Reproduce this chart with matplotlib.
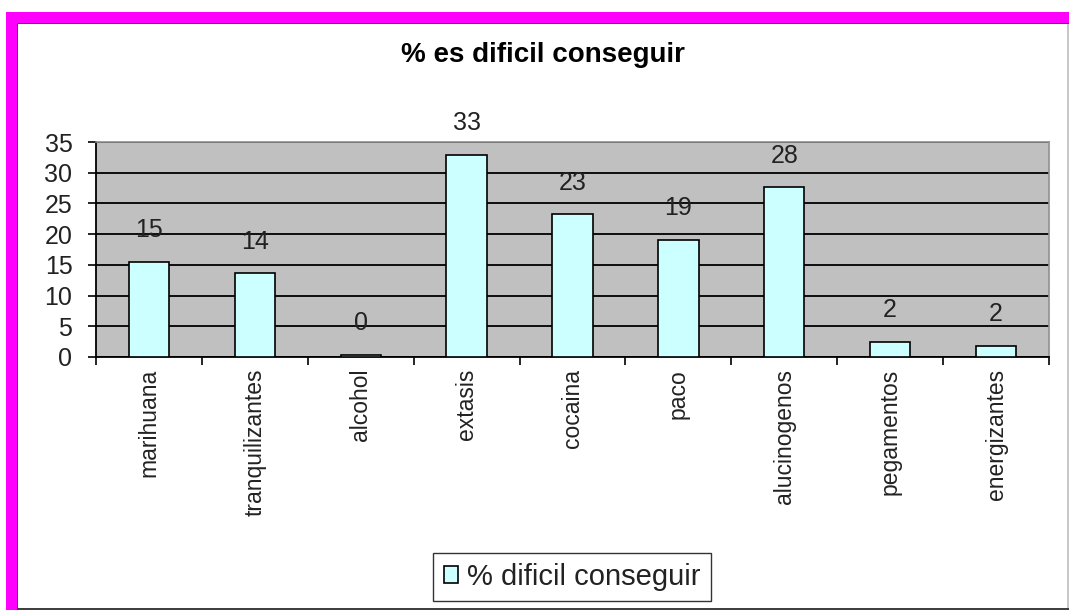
import matplotlib
matplotlib.use('Agg')
import matplotlib.pyplot as plt
from matplotlib.patches import Rectangle
import numpy as np

# Datos
categorias = ["marihuana", "tranquilizantes", "alcohol", "extasis", "cocaina",
              "paco", "alucinogenos", "pegamentos", "energizantes"]
valores = [15.4, 13.6, 0.3, 32.9, 23.2, 19.0, 27.6, 2.4, 1.8]
etiquetas = ["15", "14", "0", "33", "23", "19", "28", "2", "2"]
yticks = [0, 5, 10, 15, 20, 25, 30, 35]
titulo = "% es dificil conseguir"
serie = "% dificil conseguir"

plt.rcParams['font.family'] = ['Liberation Sans', 'DejaVu Sans']

W, H = 1069, 610
fig = plt.figure(figsize=(W / 100, H / 100), dpi=100)
fig.patch.set_facecolor('white')


def rect_px(x0, y0, x1, y1, color):
    # rectangulo en pixeles (origen arriba-izquierda)
    fig.patches.append(Rectangle((x0 / W, 1 - y1 / H), (x1 - x0) / W, (y1 - y0) / H,
                                 transform=fig.transFigure, facecolor=color,
                                 edgecolor='none', zorder=-10))


# Marco magenta y panel blanco
rect_px(6, 12, W, H, '#ff00ff')
rect_px(17, 23, 1069, 610, '#404040')
rect_px(18, 24, 1067, 608, 'white')
rect_px(1067, 24, 1069, 608, '#c8c8c8')

ax = fig.add_axes([96 / W, 1 - 357 / H, (1049 - 96) / W, (357 - 142) / H])
ax.set_facecolor('#c0c0c0')

x = np.arange(len(categorias))
bars = ax.bar(x, valores, width=0.38, color='#ccffff', edgecolor='black',
              linewidth=1.2, zorder=3, label=serie)

for xi, v, lab in zip(x, valores, etiquetas):
    ax.annotate(lab, (xi, v), xytext=(0, 23), textcoords='offset points',
                ha='center', va='center', fontsize=18, color='#222222', zorder=4)

ax.set_xlim(-0.5, len(categorias) - 0.5)
ax.set_ylim(0, 35)
ax.set_yticks(yticks)
ax.yaxis.grid(True, color='black', linewidth=1.3, zorder=1)
ax.set_axisbelow(True)

ax.set_xticks(x)
ax.set_xticklabels(categorias, rotation=90, fontsize=16.5, color='#222222')
ax.set_xticks(np.arange(-0.5, len(categorias)), minor=True)
ax.tick_params(axis='x', which='major', length=0, pad=8.5)
ax.tick_params(axis='x', which='minor', length=6, width=1.2, color='black')
ax.tick_params(axis='y', length=6, width=1.2, pad=11, labelsize=18,
               labelcolor='#222222')

for s in ['left', 'bottom']:
    ax.spines[s].set_color('black')
    ax.spines[s].set_linewidth(1.3)
for s in ['top', 'right']:
    ax.spines[s].set_color('#909090')
    ax.spines[s].set_linewidth(1.2)

fig.text(543 / W, 1 - 55 / H, titulo, ha='center', va='center',
         fontsize=20, fontweight='bold', color='black')

leg = fig.legend(handles=[bars], labels=[serie], loc='center',
                 bbox_to_anchor=(572 / W, 1 - 577 / H), fontsize=21,
                 frameon=True, fancybox=False, handlelength=0.5,
                 handleheight=0.5, handletextpad=0.3, borderpad=0.35,
                 borderaxespad=0)
leg.get_frame().set_edgecolor('black')
leg.get_frame().set_linewidth(1.0)
for t in leg.get_texts():
    t.set_color('#222222')

fig.savefig('out.png', dpi=100)
